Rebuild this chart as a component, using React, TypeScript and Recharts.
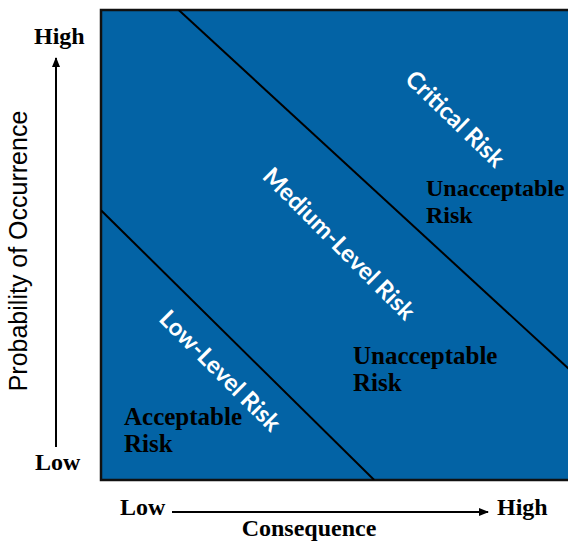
import { ComposedChart, XAxis, YAxis, Line, ReferenceArea } from "recharts";

// risk matrix boundaries, in axis units (0..10 both ways)
const upperBoundary = [
  { x: 1.65, y: 10 },
  { x: 10, y: 2.3 },
];
const lowerBoundary = [
  { x: 0, y: 5.74 },
  { x: 5.8, y: 0 },
];

const zoneLabels = [
  { text: "Critical Risk", cx: 456, cy: 118, angle: 44 },
  { text: "Medium-Level Risk", cx: 340, cy: 243, angle: 45 },
  { text: "Low-Level Risk", cx: 221, cy: 370, angle: 45 },
];

const verdicts = [
  { lines: ["Unacceptable", "Risk"], x: 426, y: 196, size: 24 },
  { lines: ["Unacceptable", "Risk"], x: 353, y: 364, size: 25 },
  { lines: ["Acceptable", "Risk"], x: 124, y: 425, size: 25 },
];

const BLUE = "#0363a5";
const SERIF = "'Liberation Serif', 'Times New Roman', serif";

export default function App() {
  return (
    <div
      style={{
        position: "absolute",
        left: 0,
        top: 0,
        width: 568,
        height: 543,
        overflow: "hidden",
        background: "#fff",
      }}
    >
      <ComposedChart
        width={572}
        height={543}
        margin={{ top: 10, right: 0, bottom: 63, left: 101 }}
      >
        <XAxis type="number" dataKey="x" domain={[0, 10]} hide allowDataOverflow />
        <YAxis type="number" domain={[0, 10]} hide allowDataOverflow />
        <ReferenceArea
          x1={0}
          x2={10}
          y1={0}
          y2={10}
          fill={BLUE}
          fillOpacity={1}
          stroke="#111"
          strokeWidth={2.5}
        />
        <Line
          data={upperBoundary}
          dataKey="y"
          stroke="#000"
          strokeWidth={2}
          dot={false}
          isAnimationActive={false}
        />
        <Line
          data={lowerBoundary}
          dataKey="y"
          stroke="#000"
          strokeWidth={2}
          dot={false}
          isAnimationActive={false}
        />
      </ComposedChart>

      <svg
        width={568}
        height={543}
        style={{ position: "absolute", left: 0, top: 0, pointerEvents: "none" }}
      >
        <defs>
          <marker id="ah" markerWidth="10" markerHeight="10" refX="9" refY="5" orient="auto" markerUnits="userSpaceOnUse">
            <path d="M0,1 L10,5 L0,9 Z" fill="#000" />
          </marker>
        </defs>

        {zoneLabels.map((z) => (
          <text
            key={z.text}
            x={z.cx}
            y={z.cy}
            transform={`rotate(${z.angle} ${z.cx} ${z.cy})`}
            textAnchor="middle"
            dominantBaseline="central"
            fill="#fff"
            fontFamily="Lato, 'Open Sans', sans-serif"
            fontWeight="bold"
            fontSize={24}
          >
            {z.text}
          </text>
        ))}

        {verdicts.map((v, i) => (
          <text
            key={i}
            x={v.x}
            y={v.y}
            fill="#000"
            fontFamily={SERIF}
            fontWeight="bold"
            fontSize={v.size}
          >
            {v.lines.map((l, j) => (
              <tspan key={j} x={v.x} dy={j === 0 ? 0 : 27}>
                {l}
              </tspan>
            ))}
          </text>
        ))}

        {/* vertical axis */}
        <text x={34} y={44} fontFamily={SERIF} fontWeight="bold" fontSize={24}>
          High
        </text>
        <text x={35} y={470} fontFamily={SERIF} fontWeight="bold" fontSize={24}>
          Low
        </text>
        <line x1={56} y1={447} x2={56} y2={58} stroke="#000" strokeWidth={2} markerEnd="url(#ah)" />
        <text
          x={27}
          y={251}
          transform="rotate(-90 27 251)"
          textAnchor="middle"
          fontFamily="'Liberation Sans', sans-serif"
          fontSize={25}
        >
          Probability of Occurrence
        </text>

        {/* horizontal axis */}
        <text x={120} y={515} fontFamily={SERIF} fontWeight="bold" fontSize={24}>
          Low
        </text>
        <line x1={172} y1={512} x2={488} y2={512} stroke="#000" strokeWidth={2} markerEnd="url(#ah)" />
        <text x={497} y={515} fontFamily={SERIF} fontWeight="bold" fontSize={24}>
          High
        </text>
        <text x={309} y={536} textAnchor="middle" fontFamily={SERIF} fontWeight="bold" fontSize={24}>
          Consequence
        </text>
      </svg>
    </div>
  );
}
